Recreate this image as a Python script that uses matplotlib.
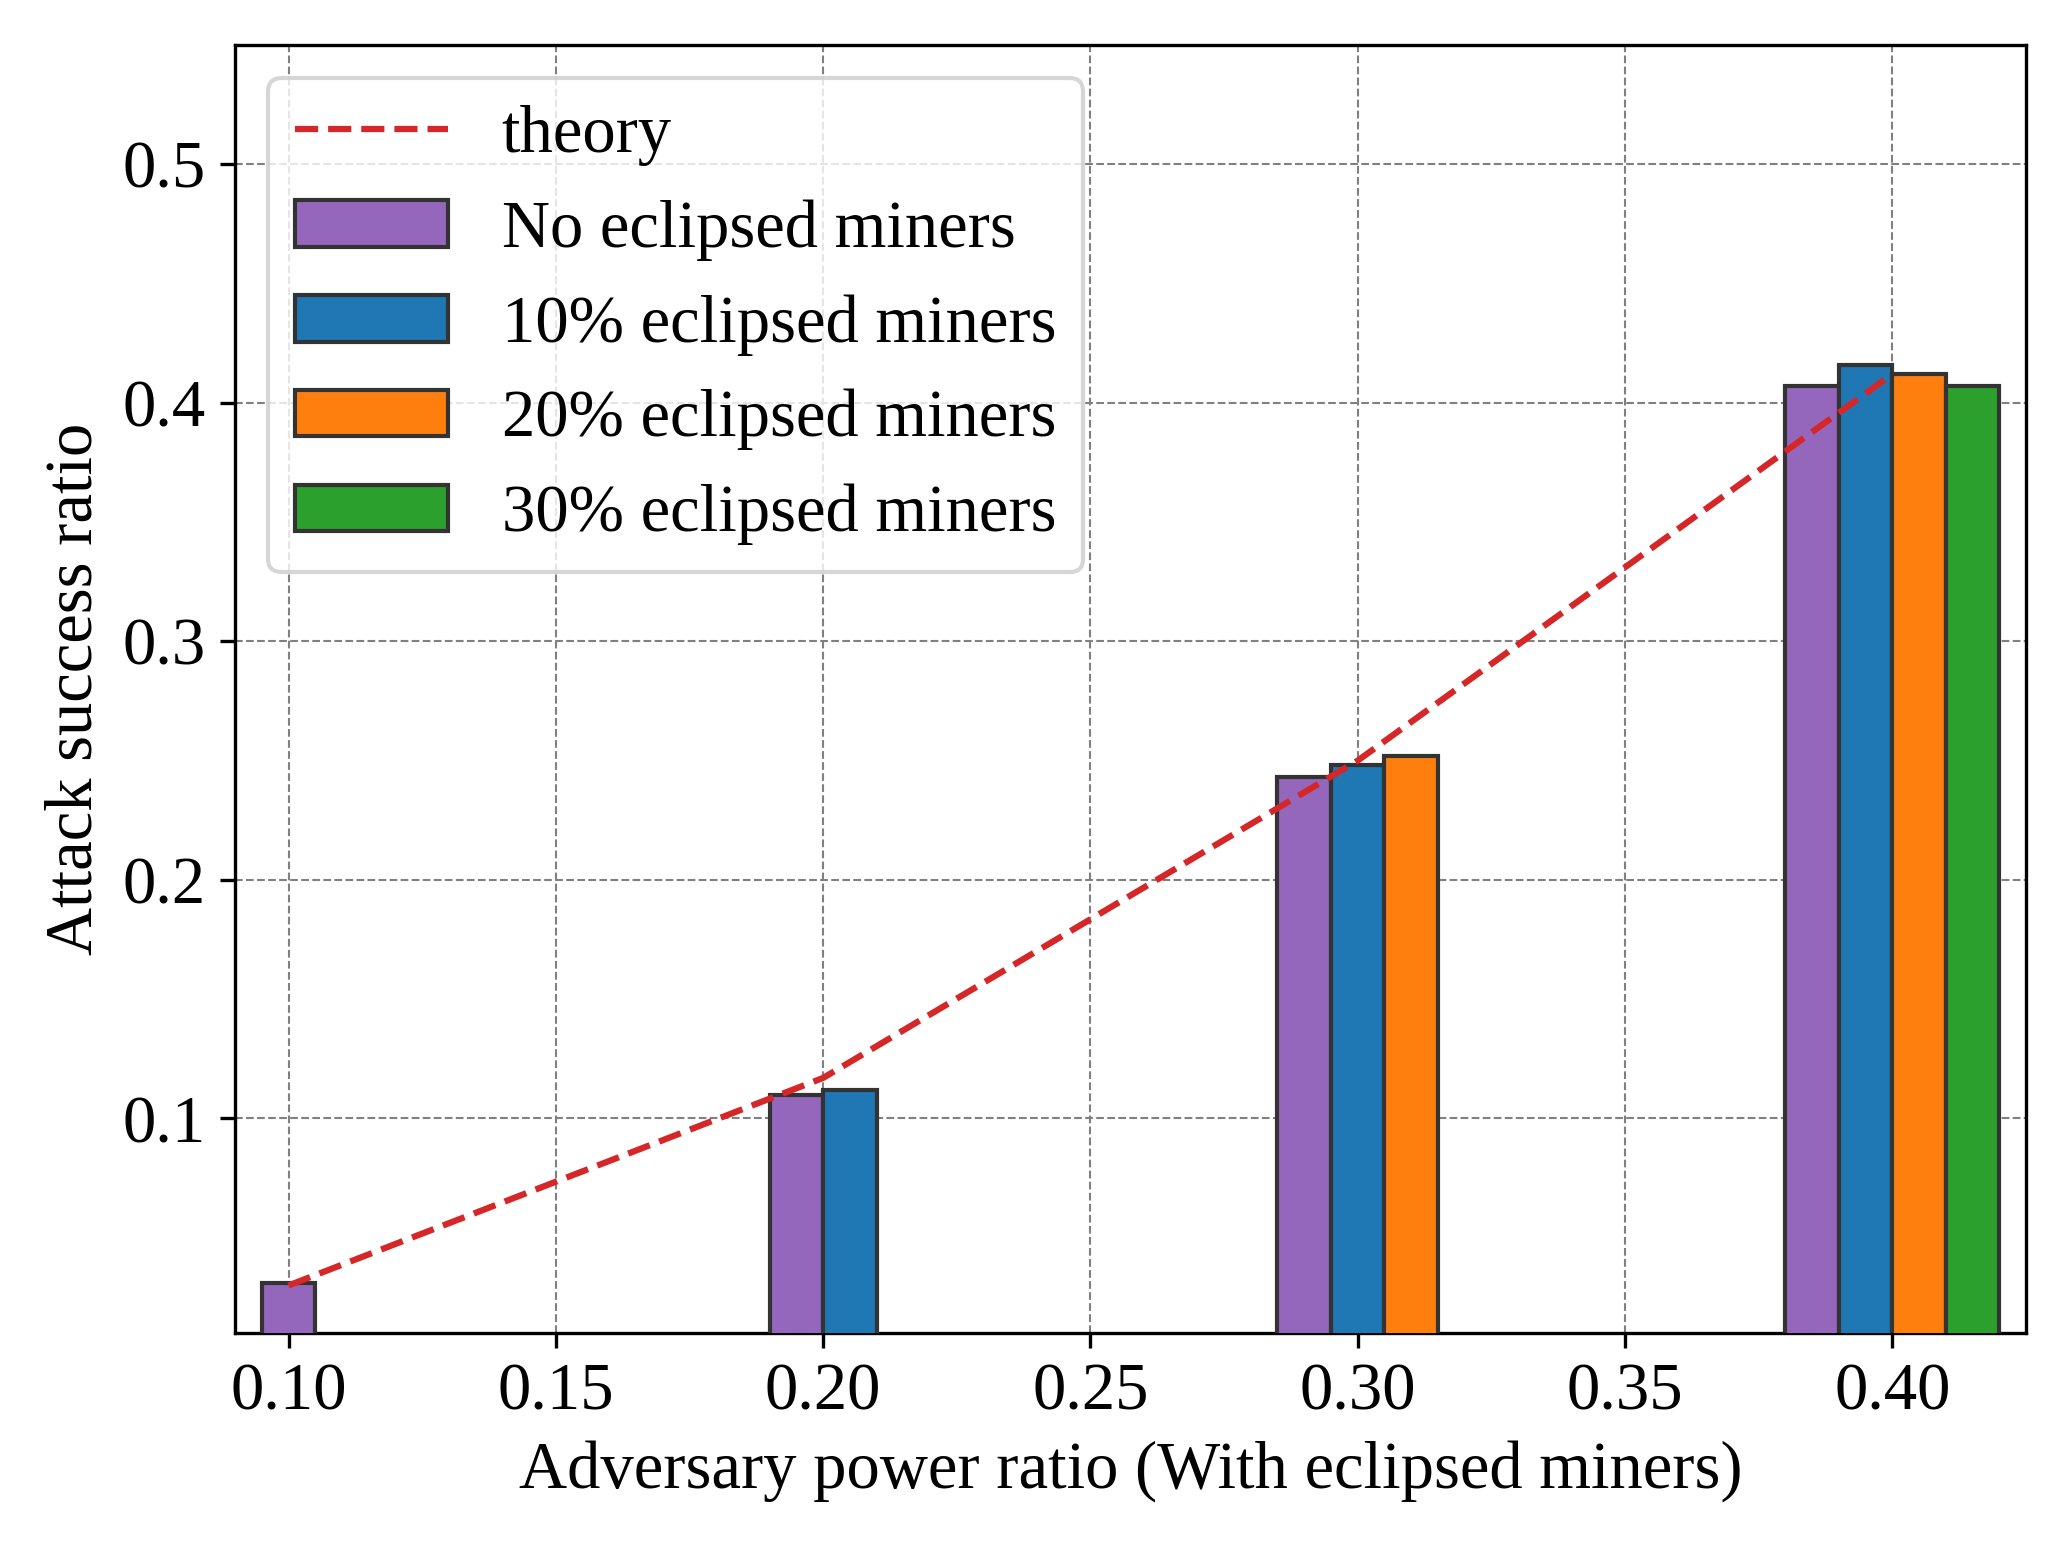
import matplotlib.pyplot as plt
import numpy as np

plt.rcParams['font.family'] = ['Liberation Serif', 'DejaVu Serif']
plt.rcParams['mathtext.fontset'] = 'stix'

# data
power = [0.10, 0.20, 0.30, 0.40]
theory = [0.030, 0.117, 0.250, 0.412]
series_labels = ["No eclipsed miners", "10% eclipsed miners",
                 "20% eclipsed miners", "30% eclipsed miners"]
series_colors = ["#9467bd", "#1f77b4", "#ff7f0e", "#2ca02c"]
# values per power level, one per series present
success = [
    [0.031],
    [0.110, 0.112],
    [0.243, 0.248, 0.252],
    [0.407, 0.416, 0.412, 0.407],
]

width = 0.01
fig, ax = plt.subplots(figsize=(6.903, 5.157), dpi=300)
ax.plot(power, theory, '--', color='#d62728', lw=1.5, label='theory', zorder=4)

for x, vals in zip(power, success):
    n = len(vals)
    for i, v in enumerate(vals):
        off = (i - (n - 1) / 2) * width
        ax.bar(x + off, v, width=width, color=series_colors[i], edgecolor='#333333',
               linewidth=1.0, zorder=3,
               label=series_labels[i] if x == 0.40 else None)

ax.set_xlim(0.09, 0.425)
ax.set_ylim(0.01, 0.55)
ax.set_xticks([0.10, 0.15, 0.20, 0.25, 0.30, 0.35, 0.40])
ax.set_xticklabels([f"{t:.2f}" for t in ax.get_xticks()])
ax.set_yticks([0.1, 0.2, 0.3, 0.4, 0.5])
ax.tick_params(labelsize=16)
ax.grid(True, linestyle='--', color='gray', linewidth=0.5, zorder=0)
ax.set_axisbelow(True)
ax.set_xlabel("Adversary power ratio (With eclipsed miners)", fontsize=16)
ax.set_ylabel("Attack success ratio", fontsize=16)
ax.legend(loc='upper left', fontsize=16, handlelength=2.3)
fig.tight_layout()
fig.savefig("out.png", dpi=300)
